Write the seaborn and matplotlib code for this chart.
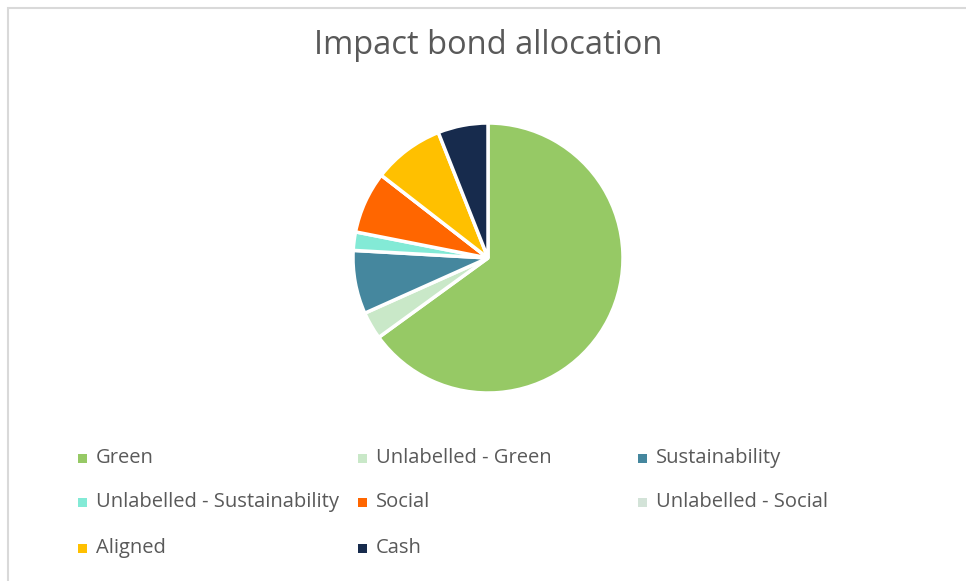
import matplotlib
matplotlib.use("Agg")
import matplotlib.pyplot as plt
from matplotlib.patches import Rectangle
import seaborn as sns

categories = ["Green", "Unlabelled - Green", "Sustainability",
              "Unlabelled - Sustainability", "Social", "Unlabelled - Social",
              "Aligned", "Cash"]
values = [65.0, 3.3, 7.6, 2.2, 7.4, 0.0, 8.5, 6.0]
colors = ["#96C965", "#C9E8C8", "#45879E", "#83EAD6", "#FF6600",
          "#D3E3D8", "#FFC000", "#172B4D"]
title = "Impact bond allocation"

sns.set_theme(style="white")
plt.rcParams["font.family"] = ["Open Sans", "DejaVu Sans"]

W, H = 966, 581
fig = plt.figure(figsize=(W / 100, H / 100), dpi=100)
fig.patch.set_facecolor("white")

# chart frame
fig.add_artist(Rectangle((8 / W, -0.1), 1.2, (H - 8) / H + 0.1,
                         transform=fig.transFigure, fill=False,
                         edgecolor="#D9D9D9", linewidth=1.5))

cx, cy, r = 488, 258, 135
ax = fig.add_axes([(cx - r) / W, (H - cy - r) / H, 2 * r / W, 2 * r / H])
palette = sns.color_palette(colors)
ax.pie(values, colors=palette, startangle=90, counterclock=False, radius=1.0,
       wedgeprops=dict(edgecolor="white", linewidth=2.5))
ax.set_xlim(-1.0, 1.0)
ax.set_ylim(-1.0, 1.0)
ax.set_aspect("equal")
ax.axis("off")

fig.text(488 / W, 1 - 45 / H, title, ha="center", va="center",
         fontsize=23.5, color="#595959")

# legend laid out row-wise, 3 columns
col_x = [78, 358, 638]
row_y = [458, 502, 548]
for i, (name, c) in enumerate(zip(categories, palette)):
    row, col = divmod(i, 3)
    x, y = col_x[col], row_y[row]
    fig.add_artist(Rectangle((x / W, (H - y - 4.5) / H), 9 / W, 9 / H,
                             transform=fig.transFigure, facecolor=c,
                             edgecolor="none"))
    fig.text((x + 18) / W, 1 - y / H, name, ha="left", va="center",
             fontsize=14.5, color="#595959")

fig.savefig("out.png", dpi=100, facecolor="white")
